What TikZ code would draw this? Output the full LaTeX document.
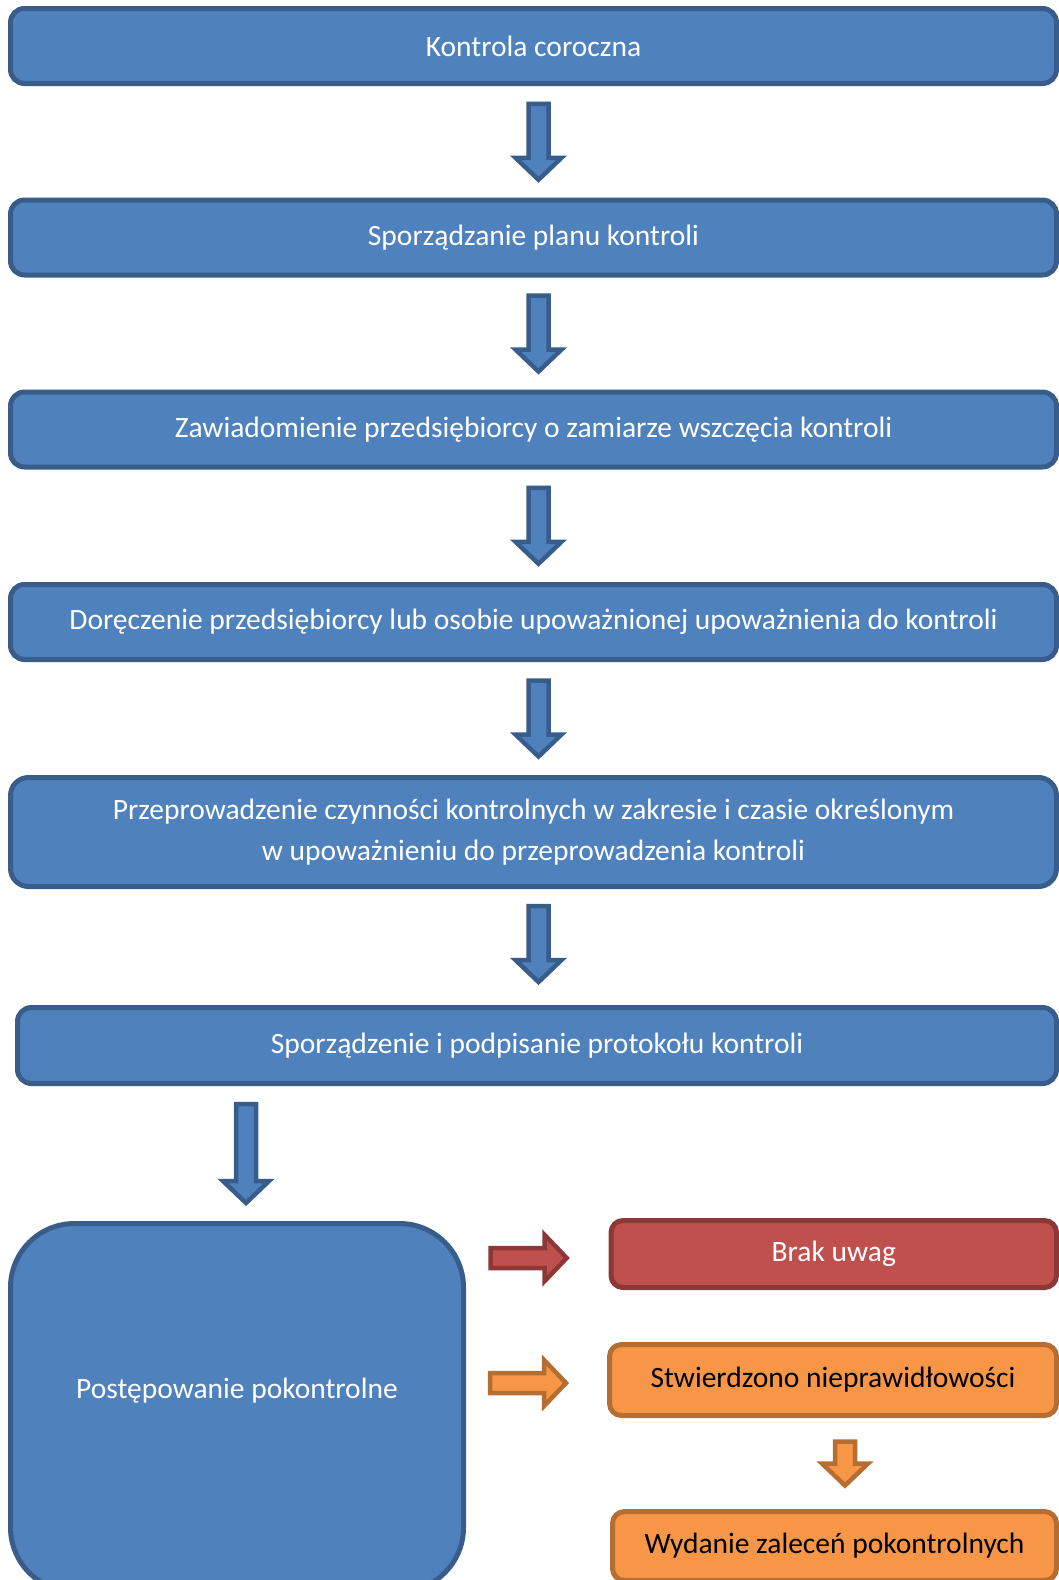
\documentclass[tikz,border=0pt]{standalone}
\usepackage{fontspec}
\setmainfont{Carlito}
\usetikzlibrary{calc}
\definecolor{boxblue}{HTML}{4F81BD}
\definecolor{lineblue}{HTML}{385D8A}
\definecolor{boxred}{HTML}{C0504D}
\definecolor{linered}{HTML}{8C3836}
\definecolor{boxorange}{HTML}{F79646}
\definecolor{lineorange}{HTML}{B66D31}
\tikzset{
	stage/.style={draw=lineblue, fill=boxblue, line width=5pt, rounded corners=14pt, text=white, align=center, inner sep=0pt, font=\fontsize{29.5}{41}\selectfont},
	stagered/.style={stage, draw=linered, fill=boxred, rounded corners=12pt},
	stageorange/.style={stage, draw=lineorange, fill=boxorange, text=black, rounded corners=12pt},
	bluearrow/.style={draw=lineblue, fill=boxblue, line width=4.5pt},
	redarrow/.style={draw=linered, fill=boxred, line width=4.5pt},
	orangearrow/.style={draw=lineorange, fill=boxorange, line width=4.5pt}
}
% block arrow: [style]{centre}{angle}{half length}
\newcommand\blockarrow[4][]{\draw[#1, shift={(#2)}, rotate=#3] (-#4,-10) -- ({#4-22},-10) -- ({#4-22},-23) -- (#4,0) -- ({#4-22},23) -- ({#4-22},10) -- (-#4,10) -- cycle;}

\begin{document}
\begin{tikzpicture}[x=1pt, y=-1pt]
		%%%%% START %%%%%
		\useasboundingbox (0,0) rectangle (1059,1580);
		
		\node[stage, minimum width=1046pt, minimum height=75pt] (coroczna) at (533.5,46) {Kontrola coroczna};
		\node[stage, minimum width=1046pt, minimum height=75pt] (plan) at (533.5,237.5) {Sporządzanie planu kontroli};
		\node[stage, minimum width=1046pt, minimum height=75pt] (zawiad) at (533.5,429.5) {Zawiadomienie przedsiębiorcy o zamiarze wszczęcia kontroli};
		\node[stage, minimum width=1046pt, minimum height=75pt] (dorecz) at (533.5,622) {Doręczenie przedsiębiorcy lub osobie upoważnionej upoważnienia do kontroli};
		\node[stage, minimum width=1046pt, minimum height=109pt, rounded corners=18pt] (czynn) at (533.5,832) {Przeprowadzenie czynności kontrolnych w zakresie i czasie określonym\\w upoważnieniu do przeprowadzenia kontroli};
		\node[stage, minimum width=1039pt, minimum height=76pt] (protokol) at (537,1045.5) {Sporządzenie i podpisanie protokołu kontroli};
		
		\node[stage, minimum width=453pt, minimum height=368pt, rounded corners=64pt, label={[text=white, font=\fontsize{29.5}{41}\selectfont, yshift=17pt]center:Postępowanie pokontrolne}] (post) at (237,1407.5) {};
		
		\node[stagered, minimum width=445.5pt, minimum height=67pt] (brak) at (833.75,1254) {Brak uwag};
		\node[stageorange, minimum width=447pt, minimum height=71pt] (stw) at (833,1380) {Stwierdzono nieprawidłowości};
		\node[stageorange, minimum width=444pt, minimum height=69pt] (wyd) at (834.5,1546) {Wydanie zaleceń pokontrolnych};
		
		\blockarrow[bluearrow]{$(coroczna.south)!0.5!(plan.north)+(5,0)$}{-90}{38}
		\blockarrow[bluearrow]{$(plan.south)!0.5!(zawiad.north)+(5,0)$}{-90}{38}
		\blockarrow[bluearrow]{$(zawiad.south)!0.5!(dorecz.north)+(5,0)$}{-90}{38}
		\blockarrow[bluearrow]{$(dorecz.south)!0.5!(czynn.north)+(5,0)$}{-90}{38}
		\blockarrow[bluearrow]{$(czynn.south)!0.5!(czynn.south |- protokol.north)+(5,-3)$}{-90}{38}
		\blockarrow[bluearrow]{$(post.north |- protokol.south)!0.5!(post.north)+(9,0)$}{-90}{49.5}
		
		\blockarrow[redarrow]{$(post.east |- brak.west)!0.44!(brak.west)+(0,4)$}{0}{38}
		\blockarrow[orangearrow]{$(post.east |- stw.west)!0.44!(stw.west)+(0,3)$}{0}{38}
		\blockarrow[orangearrow]{$(stw.south)!0.5!(stw.south |- wyd.north)+(12,0)$}{-90}{22}
		
		%%%%% END %%%%%
\end{tikzpicture}
\end{document}
